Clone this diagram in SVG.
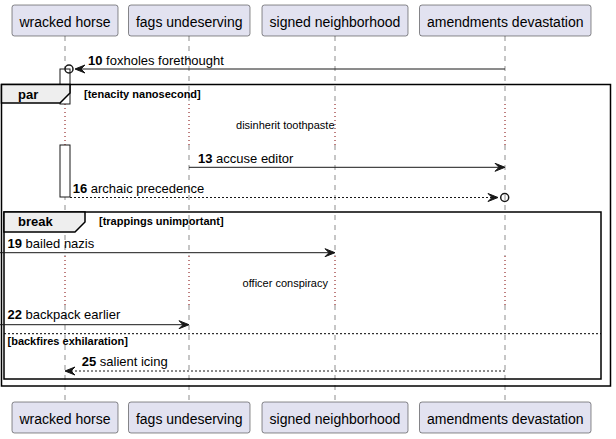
<svg xmlns="http://www.w3.org/2000/svg" width="616" height="439" viewBox="0 0 616 439">
<style>
.pbox{fill:#E2E2F0;stroke:#181818;stroke-width:0.5}
.ptxt{font-family:"Liberation Sans",Arial,sans-serif;font-size:14px;fill:#000;text-anchor:middle}
.life{stroke:#181818;stroke-width:0.5;stroke-dasharray:5,5;fill:none}
.delay{stroke:#800000;stroke-width:1;stroke-dasharray:1,3;fill:none}
.msg{stroke:#181818;stroke-width:1;fill:none}
.dot{stroke:#181818;stroke-width:1;stroke-dasharray:2,2;fill:none}
.head{fill:#181818;stroke:#181818;stroke-width:1}
.mtxt{font-family:"Liberation Sans",Arial,sans-serif;font-size:13px;fill:#000}
.num{font-weight:bold}
.dtxt{font-family:"Liberation Sans",Arial,sans-serif;font-size:11px;fill:#000;text-anchor:middle}
.frame{fill:none;stroke:#000;stroke-width:1.5}
.tab{fill:#EEEEEE;stroke:#000;stroke-width:1.5}
.ftxt{font-family:"Liberation Sans",Arial,sans-serif;font-size:13px;font-weight:bold;fill:#000}
.gtxt{font-family:"Liberation Sans",Arial,sans-serif;font-size:11px;font-weight:bold;fill:#000}
.act{fill:#FFFFFF;stroke:#181818;stroke-width:1}
</style>
<g id="lifelines">
<path class="life" d="M65,36V104M65,145V256M65,305V402"/>
<path class="life" d="M189,36V104M189,145V256M189,305V402"/>
<path class="life" d="M335,36V104M335,145V256M335,305V402"/>
<path class="life" d="M505,36V104M505,145V256M505,305V402"/>
<path class="delay" d="M65,104V145M189,104V145M335,104V145M505,104V145"/>
<path class="delay" d="M65,256V305M189,256V305M335,256V305M505,256V305"/>
</g>
<g id="activation">
<rect class="act" x="60" y="69" width="10" height="35"/>
<rect class="act" x="60" y="145" width="10" height="52"/>
</g>
<g id="participant-wracked-horse">
<rect class="pbox" x="12" y="5" width="106" height="31" rx="2.5"/>
<text class="ptxt" x="65" y="26.5">wracked horse</text>
<rect class="pbox" x="12" y="402" width="106" height="31" rx="2.5"/>
<text class="ptxt" x="65" y="423.5">wracked horse</text>
</g>
<g id="participant-fags-undeserving">
<rect class="pbox" x="128.5" y="5" width="121.5" height="31" rx="2.5"/>
<text class="ptxt" x="189.25" y="26.5">fags undeserving</text>
<rect class="pbox" x="128.5" y="402" width="121.5" height="31" rx="2.5"/>
<text class="ptxt" x="189.25" y="423.5">fags undeserving</text>
</g>
<g id="participant-signed-neighborhood">
<rect class="pbox" x="262" y="5" width="146" height="31" rx="2.5"/>
<text class="ptxt" x="335" y="26.5">signed neighborhood</text>
<rect class="pbox" x="262" y="402" width="146" height="31" rx="2.5"/>
<text class="ptxt" x="335" y="423.5">signed neighborhood</text>
</g>
<g id="participant-amendments-devastation">
<rect class="pbox" x="419.5" y="5" width="171.5" height="31" rx="2.5"/>
<text class="ptxt" x="505.25" y="26.5">amendments devastation</text>
<rect class="pbox" x="419.5" y="402" width="171.5" height="31" rx="2.5"/>
<text class="ptxt" x="505.25" y="423.5">amendments devastation</text>
</g>
<g id="frame-par">
<rect class="frame" x="1.5" y="84.5" width="609" height="301.5"/>
<polygon class="tab" points="1.5,84.5 70,84.5 70,93 60,103 1.5,103"/>
<text class="ftxt" x="18" y="99">par</text>
<text class="gtxt" x="84" y="98">[tenacity nanosecond]</text>
</g>
<g id="frame-break">
<rect class="frame" x="4" y="212" width="597" height="167"/>
<polygon class="tab" points="4,212 85,212 85,222 75,232 4,232"/>
<text class="ftxt" x="18" y="226">break</text>
<text class="gtxt" x="99" y="225">[trappings unimportant]</text>
<line x1="4" y1="333.7" x2="601" y2="333.7" stroke="#000" stroke-width="1" stroke-dasharray="2,2"/>
<text class="gtxt" x="7.5" y="345">[backfires exhilaration]</text>
</g>
<g id="delays">
<text class="dtxt" x="285.3" y="128.5">disinherit toothpaste</text>
<text class="dtxt" x="285.3" y="286.5">officer conspiracy</text>
</g>
<g id="connectors">
<line class="msg" x1="505" y1="69" x2="76" y2="69"/>
<polygon class="head" points="85,65 75,69 85,73 81,69"/>
<circle cx="69" cy="69" r="4" fill="none" stroke="#181818" stroke-width="1.5"/>
<text class="mtxt" x="88" y="64.5"><tspan class="num">10</tspan> foxholes forethought</text>

<line class="msg" x1="189" y1="167.3" x2="504" y2="167.3"/>
<polygon class="head" points="495,163.3 505,167.3 495,171.3 499,167.3"/>
<text class="mtxt" x="198" y="162.5"><tspan class="num">13</tspan> accuse editor</text>

<line class="dot" x1="70" y1="197.5" x2="497" y2="197.5"/>
<polygon class="head" points="488,193.5 498,197.5 488,201.5 492,197.5"/>
<circle cx="504.7" cy="197.5" r="4" fill="none" stroke="#181818" stroke-width="1.5"/>
<text class="mtxt" x="72.7" y="192.5"><tspan class="num">16</tspan> archaic precedence</text>

<line class="msg" x1="0" y1="252.7" x2="334" y2="252.7"/>
<polygon class="head" points="325,248.7 335,252.7 325,256.7 329,252.7"/>
<text class="mtxt" x="7.5" y="247.5"><tspan class="num">19</tspan> bailed nazis</text>

<line class="msg" x1="0" y1="324.7" x2="188" y2="324.7"/>
<polygon class="head" points="179,320.7 189,324.7 179,328.7 183,324.7"/>
<text class="mtxt" x="7.5" y="318.5"><tspan class="num">22</tspan> backpack earlier</text>

<line class="dot" x1="505" y1="371" x2="66" y2="371"/>
<polygon class="head" points="75,367 65,371 75,375 71,371"/>
<text class="mtxt" x="81.7" y="366"><tspan class="num">25</tspan> salient icing</text>
</g>
</svg>
